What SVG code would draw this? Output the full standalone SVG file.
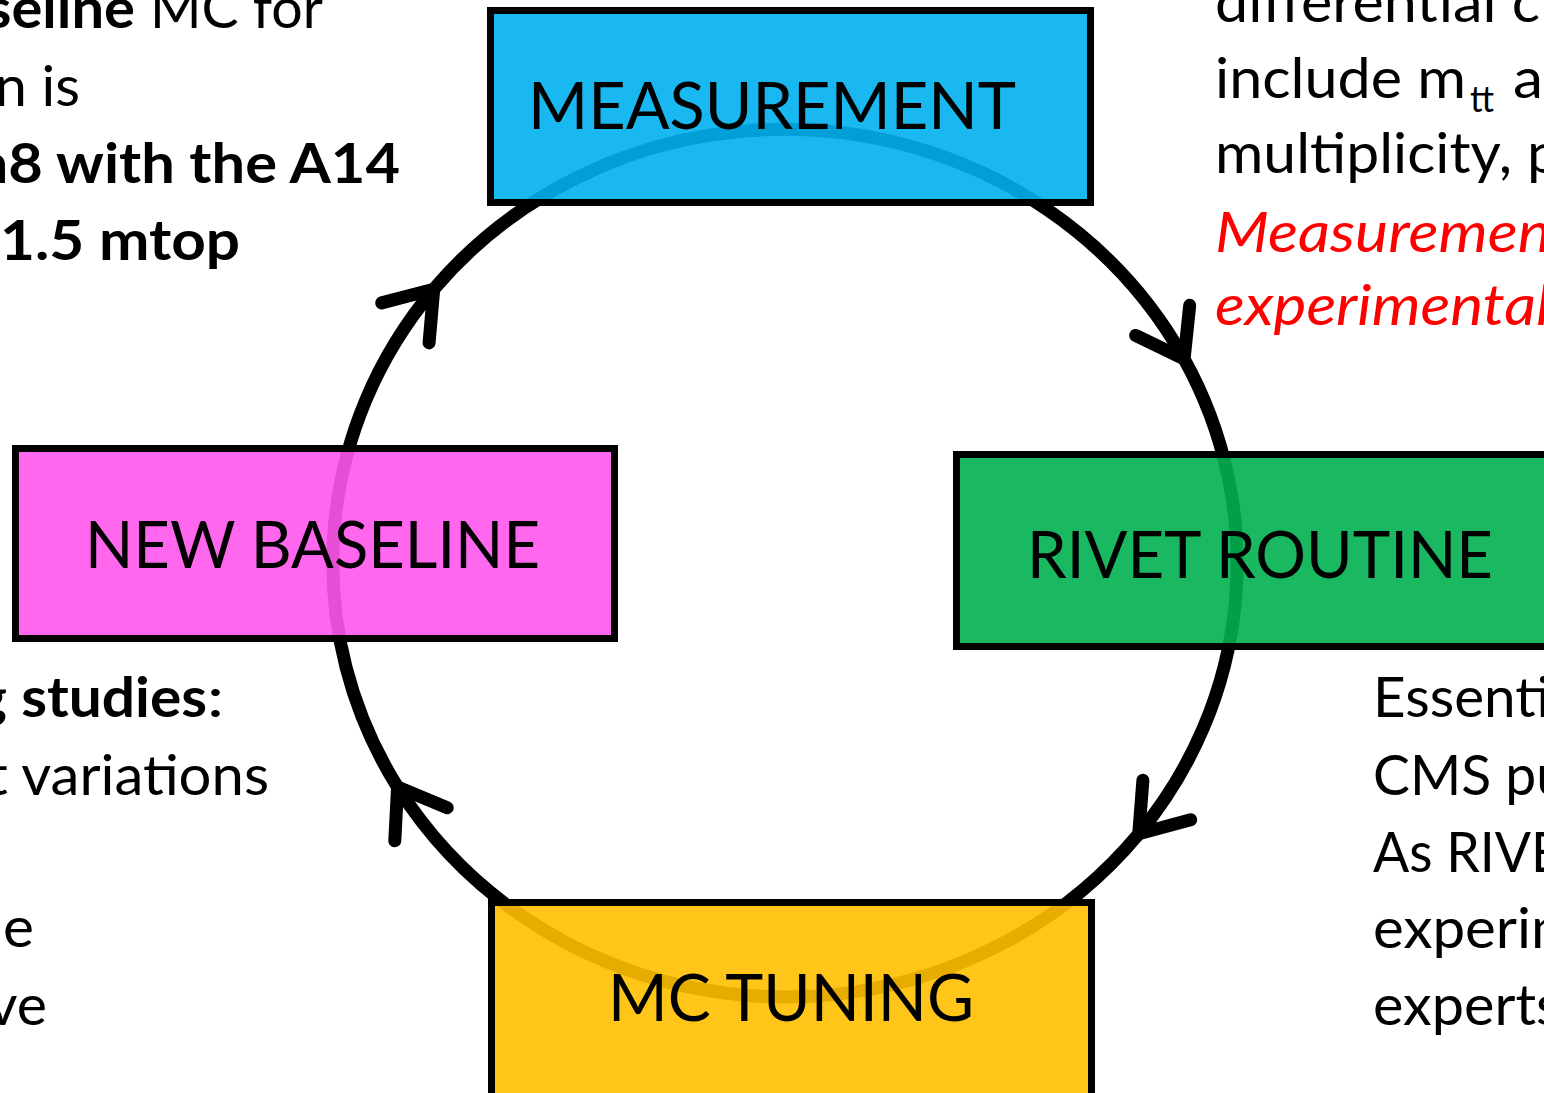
<svg xmlns="http://www.w3.org/2000/svg" width="1544" height="1093" viewBox="0 0 1544 1093">
<style>
.t { font-family: Lato, 'Open Sans', 'Liberation Sans', sans-serif; font-size: 56px; fill: #000; }
.b { font-weight: bold; }
.red { fill: #FF0000; font-style: italic; }
.sub { font-size: 36px; }
.lbl { font-family: Lato, 'Open Sans', 'Liberation Sans', sans-serif; font-size: 66px; fill: #000; }
.box { stroke: #000; stroke-width: 7; fill-opacity: 0.9; }
.conn { fill: none; stroke: #000; stroke-width: 13; marker-end: url(#arrow); }
</style>
<defs>
<marker id="arrow" markerUnits="userSpaceOnUse" orient="auto" refX="0" refY="0" markerWidth="120" markerHeight="120" overflow="visible">
<path d="M -44,-31 L 0,0 L -44,31" fill="none" stroke="#000" stroke-width="13" stroke-linecap="round" stroke-linejoin="round"/>
</marker>
</defs>
<rect width="1544" height="1093" fill="#fff"/>

<g id="connectors">
<path class="conn" d="M 433.73,289.25 A 453 435 0 0 1 1184.09,358.78"/>
<path class="conn" d="M 1184.09,358.78 A 453 435 0 0 1 1138.74,833.79"/>
<path class="conn" d="M 1138.74,833.79 A 453 435 0 0 1 397.56,787.04"/>
<path class="conn" d="M 397.56,787.04 A 453 435 0 0 1 433.73,289.25"/>
</g>

<g id="measurement">
<rect class="box" x="490.5" y="10.5" width="600" height="192" fill="#00B0F0"/>
<text class="lbl" x="528" y="129" textLength="488" lengthAdjust="spacingAndGlyphs">MEASUREMENT</text>
</g>
<g id="rivet-routine">
<rect class="box" x="956.5" y="454.5" width="650" height="192" fill="#00B050"/>
<text class="lbl" x="1027" y="578" textLength="466" lengthAdjust="spacingAndGlyphs">RIVET ROUTINE</text>
</g>
<g id="mc-tuning">
<rect class="box" x="491.5" y="902.5" width="600" height="200" fill="#FFC000"/>
<text class="lbl" x="608" y="1021" textLength="366" lengthAdjust="spacingAndGlyphs">MC TUNING</text>
</g>
<g id="new-baseline">
<rect class="box" x="15.5" y="448.5" width="599" height="190" fill="#FF57EC"/>
<text class="lbl" x="85" y="568" textLength="455" lengthAdjust="spacingAndGlyphs">NEW BASELINE</text>
</g>

<g id="text-top-left">
<text class="t b" x="-14" y="28" textLength="149" lengthAdjust="spacingAndGlyphs">seline</text>
<text class="t" x="150" y="28" textLength="173" lengthAdjust="spacingAndGlyphs">MC for</text>
<text class="t" x="-5" y="106" textLength="85" lengthAdjust="spacingAndGlyphs">n is</text>
<text class="t b" x="-22" y="183" textLength="422" lengthAdjust="spacingAndGlyphs">a8 with the A14</text>
<text class="t b" x="0" y="260" textLength="240" lengthAdjust="spacingAndGlyphs">1.5 mtop</text>
</g>

<g id="text-top-right">
<text class="t" x="1215" y="22" textLength="325" lengthAdjust="spacingAndGlyphs">differential c</text>
<text class="t" x="1215" y="98" textLength="251" lengthAdjust="spacingAndGlyphs">include m</text>
<text class="t sub" x="1470" y="112" textLength="24" lengthAdjust="spacingAndGlyphs">tt</text>
<text class="t" x="1513" y="98" textLength="30" lengthAdjust="spacingAndGlyphs">a</text>
<text class="t" x="1215" y="173" textLength="345" lengthAdjust="spacingAndGlyphs">multiplicity, p</text>
<text class="t red" x="1215" y="252" textLength="336" lengthAdjust="spacingAndGlyphs">Measuremen</text>
<text class="t red" x="1215" y="325" textLength="335" lengthAdjust="spacingAndGlyphs">experimental</text>
</g>

<g id="text-bottom-left">
<text class="t b" x="-24" y="717" textLength="231" lengthAdjust="spacingAndGlyphs">g studies</text>
<text class="t" x="207" y="717" textLength="17" lengthAdjust="spacingAndGlyphs">:</text>
<text class="t" x="-13" y="795" textLength="282" lengthAdjust="spacingAndGlyphs">t variations</text>
<text class="t" x="3" y="947" textLength="31" lengthAdjust="spacingAndGlyphs">e</text>
<text class="t" x="-12" y="1025" textLength="59" lengthAdjust="spacingAndGlyphs">ve</text>
</g>

<g id="text-bottom-right">
<text class="t" x="1373" y="717" textLength="177" lengthAdjust="spacingAndGlyphs">Essenti</text>
<text class="t" x="1373" y="795" textLength="194" lengthAdjust="spacingAndGlyphs">CMS pu</text>
<text class="t" x="1373" y="872" textLength="189" lengthAdjust="spacingAndGlyphs">As RIVE</text>
<text class="t" x="1373" y="948" textLength="206" lengthAdjust="spacingAndGlyphs">experim</text>
<text class="t" x="1373" y="1025" textLength="188" lengthAdjust="spacingAndGlyphs">experts</text>
</g>
</svg>
